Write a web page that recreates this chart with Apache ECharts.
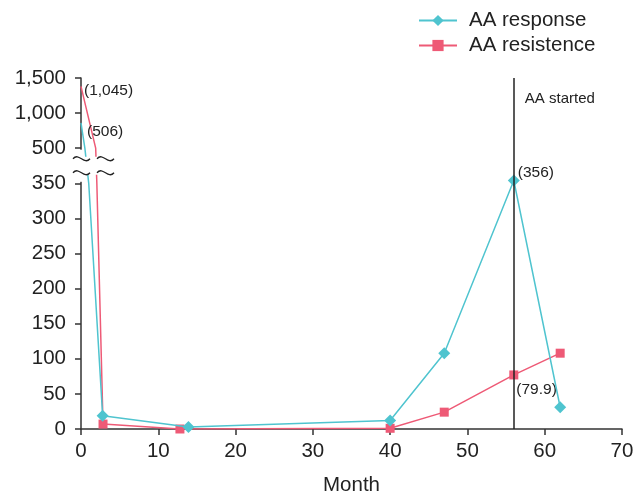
<!DOCTYPE html>
<html>
<head>
<meta charset="utf-8">
<script src="https://cdn.jsdelivr.net/npm/echarts@6/dist/echarts.min.js"></script>
<style>
  html, body { margin: 0; padding: 0; background: #fff; }
  #chart { width: 644px; height: 496px; }
</style>
</head>
<body>
<div id="chart"></div>
<script>
// 数据
const responseMonth = [0, 0.5, 1.0, 2.8, 13.9, 40, 47, 56, 62];
const responseValue = [860, 500, 350, 19, 3, 12, 108, 354, 31];
const responseMarker = [0, 0, 0, 1, 1, 1, 1, 1, 1];
const responseLabel = ['(506)', '', '', '', '', '', '', '(356)', ''];

const resistMonth = [0, 1.9, 2.05, 2.85, 12.8, 40, 47, 56, 62];
const resistValue = [1380, 500, 350, 7, 0, 1, 24, 77, 108];
const resistMarker = [0, 0, 0, 1, 1, 1, 1, 1, 1];
const resistLabel = ['(1,045)', '', '', '', '', '', '', '(79.9)', ''];

// y 轴刻度 (断轴: 500 以上换比例)
const yTickLabels = ['0', '50', '100', '150', '200', '250', '300', '350', '500', '1,000', '1,500'];
const startMonth = 56;

const FONT = "'Liberation Sans', Arial, sans-serif";
const CYAN = '#4FC4CF';
const RED = '#EE5A76';

// 实际值 -> 断轴坐标
function toAxis(v) {
  return v < 500 ? v : 400 + (v - 500) / 10;
}

// 标签偏移
const labelOffset = {
  '(506)': [6, 9],
  '(1,045)': [3, 4],
  '(356)': [-2, -8],
  '(79.9)': [-2, 15]
};

function buildData(months, values, markers, labels) {
  return months.map((m, i) => {
    const item = { value: [m, toAxis(values[i])] };
    if (!markers[i]) {
      if (labels[i]) item.symbolSize = 0; // 保留标签
      else item.symbol = 'none';
    }
    if (labels[i]) {
      item.label = {
        show: true,
        formatter: labels[i],
        position: 'right',
        distance: 0,
        offset: labelOffset[labels[i]],
        fontSize: 15.5,
        color: '#222',
        fontFamily: FONT
      };
    }
    return item;
  });
}

const myChart = echarts.init(document.getElementById('chart'));

const option = {
  animation: false,
  grid: { left: 81, right: 22, top: 78, bottom: 67, outerBoundsMode: 'none', containLabel: false },
  legend: {
    orient: 'vertical',
    left: 413,
    top: 5,
    itemWidth: 38,
    itemHeight: 14,
    itemGap: 4,
    textStyle: { fontSize: 20.5, color: '#222', fontFamily: FONT, padding: [0, 0, 0, 7] },
    data: ['AA response', 'AA resistence']
  },
  xAxis: {
    type: 'value',
    min: 0,
    max: 70,
    interval: 10,
    name: 'Month',
    nameLocation: 'middle',
    nameGap: 46,
    nameTextStyle: { fontSize: 20.5, color: '#222', fontFamily: FONT },
    axisLine: { lineStyle: { color: '#333', width: 1.5 } },
    axisTick: { inside: false, length: 6, lineStyle: { color: '#333', width: 1.5 } },
    axisLabel: { fontSize: 20.5, color: '#222', fontFamily: FONT, margin: 12 },
    splitLine: { show: false }
  },
  yAxis: {
    type: 'value',
    min: 0,
    max: 500,
    interval: 50,
    axisLine: { show: true, lineStyle: { color: '#333', width: 1.5 } },
    axisTick: { show: true, length: 6, lineStyle: { color: '#333', width: 1.5 } },
    axisLabel: {
      fontSize: 20.5, color: '#222', fontFamily: FONT, margin: 15,
      formatter: (v) => yTickLabels[Math.round(v / 50)]
    },
    splitLine: { show: false }
  },
  series: [
    {
      name: 'AA response',
      type: 'line',
      symbol: 'diamond',
      symbolSize: 12,
      itemStyle: { color: CYAN },
      lineStyle: { color: CYAN, width: 1.5 },
      data: buildData(responseMonth, responseValue, responseMarker, responseLabel),
      z: 3,
      markLine: {
        silent: true,
        symbol: 'none',
        label: { show: false },
        lineStyle: { color: '#222', width: 1.5, type: 'solid' },
        data: [{ xAxis: startMonth }]
      },
      markPoint: {
        symbol: 'rect',
        symbolSize: 0,
        label: {
          show: true,
          position: 'right',
          distance: 11,
          formatter: 'AA started',
          fontSize: 15,
          color: '#222',
          fontFamily: FONT
        },
        data: [{ coord: [startMonth, 470] }]
      }
    },
    {
      name: 'AA resistence',
      type: 'line',
      symbol: 'rect',
      symbolSize: 9,
      itemStyle: { color: RED },
      lineStyle: { color: RED, width: 1.5 },
      data: buildData(resistMonth, resistValue, resistMarker, resistLabel),
      z: 2
    }
  ]
};

myChart.setOption(option);

// 断轴符号
const x0 = myChart.convertToPixel({ gridIndex: 0 }, [0, 0])[0];
const yTop = myChart.convertToPixel({ gridIndex: 0 }, [0, 400])[1];
const yBot = myChart.convertToPixel({ gridIndex: 0 }, [0, 350])[1];
const yMid = (yTop + yBot) / 2;

function tilde(x, y) {
  return {
    type: 'bezierCurve',
    z: 101,
    shape: { x1: x, y1: y, x2: x + 17, y2: y, cpx1: x + 6, cpy1: y - 7, cpx2: x + 11, cpy2: y + 7 },
    style: { stroke: '#222', lineWidth: 1.3, fill: null }
  };
}

myChart.setOption({
  graphic: [
    { type: 'rect', z: 100, shape: { x: x0 - 3, y: yTop + 1.5, width: 6, height: yBot - yTop - 3 }, style: { fill: '#fff' } },
    { type: 'rect', z: 100, shape: { x: x0 - 12, y: yMid - 9, width: 50, height: 18 }, style: { fill: '#fff' } },
    tilde(x0 - 8, yMid - 7),
    tilde(x0 + 16, yMid - 7),
    tilde(x0 - 8, yMid + 7),
    tilde(x0 + 16, yMid + 7)
  ]
});
</script>
</body>
</html>
